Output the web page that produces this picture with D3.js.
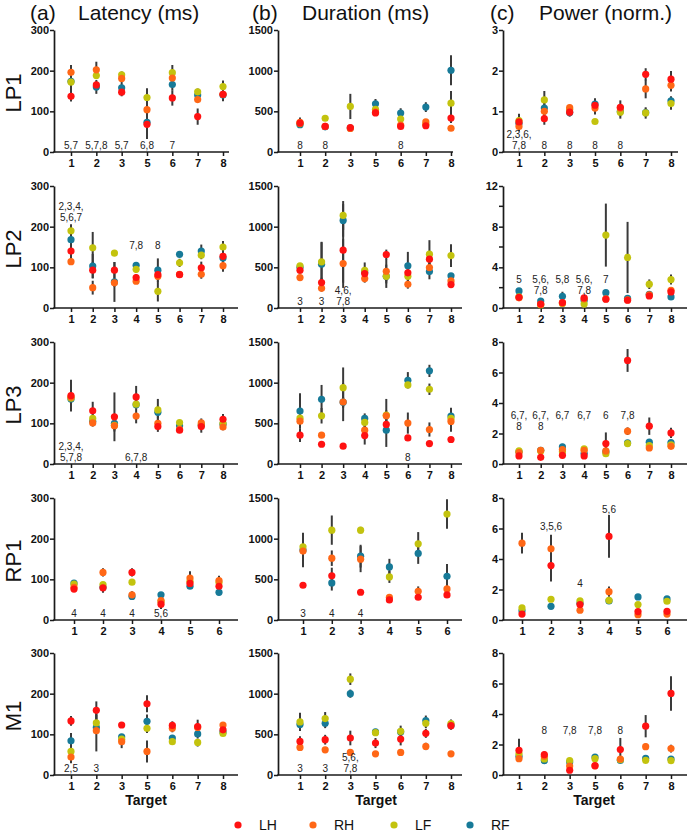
<!DOCTYPE html>
<html><head><meta charset="utf-8">
<script src="https://cdn.jsdelivr.net/npm/d3@7"></script>
<style>body{margin:0;background:#fff;} svg{display:block;font-family:"Liberation Sans",Arial,sans-serif;}</style>
</head><body><svg id="c" width="690" height="833"></svg>
<script>
// ---------- labels ----------
const seriesNames = ["LH","RH","LF","RF"];
const rowNames = ["LP1","LP2","LP3","RP1","M1"];
const columnTitles = ["Latency (ms)","Duration (ms)","Power (norm.)"];
const columnLetters = ["(a)","(b)","(c)"];
const xTitle = "Target";

// ---------- targets per row ----------
const targetsLP1 = [1,2,3,5,6,7,8];
const targetsLP2 = [1,2,3,4,5,6,7,8];
const targetsLP3 = [1,2,3,4,5,6,7,8];
const targetsRP1 = [1,2,3,4,5,6];
const targetsM1  = [1,2,3,5,6,7,8];

// ---------- y ticks ----------
const latTicks = [0,100,200,300];
const durTicks = [0,500,1000,1500];
const powTicksLP1 = [0,1,2,3];
const powTicksLP2 = [0,4,8,12];
const powMinorLP2 = [2,6,10];
const powTicks8 = [0,2,4,6,8];

// ---------- data: [mean, error] per target ----------
// LP1
const LP1_lat_LH = [[137,13],[165,8],[147,10],[68,10],[133,19],[87,20],[142,8]];
const LP1_lat_RH = [[196,18],[202,20],[181,8],[104,12],[182,10],[129,8],[142,6]];
const LP1_lat_LF = [[172,8],[188,8],[190,8],[134,23],[195,19],[148,8],[161,15]];
const LP1_lat_RF = [[174,25],[160,17],[158,14],[73,41],[166,14],[140,8],[140,15]];
const LP1_dur_LH = [[355,20],[315,15],[300,15],[480,20],[315,30],[323,20],[418,60]];
const LP1_dur_RH = [[365,60],[315,10],[290,10],[490,20],[330,30],[370,25],[292,15]];
const LP1_dur_LF = [[350,20],[415,20],[560,155],[525,30],[405,35],[340,20],[600,150]];
const LP1_dur_RF = [[335,40],[310,10],[295,10],[592,60],[478,60],[552,60],[1005,185]];
const LP1_pow_LH = [[0.74,0.1],[0.82,0.15],[0.98,0.08],[1.15,0.15],[1.10,0.17],[1.91,0.15],[1.79,0.2]];
const LP1_pow_RH = [[0.63,0.12],[1.00,0.1],[1.09,0.07],[1.08,0.16],[1.08,0.1],[1.55,0.23],[1.64,0.15]];
const LP1_pow_LF = [[0.77,0.17],[1.28,0.22],[1.05,0.08],[0.75,0.06],[0.98,0.16],[0.96,0.14],[1.19,0.15]];
const LP1_pow_RF = [[0.70,0.1],[1.08,0.12],[0.97,0.1],[1.18,0.14],[1.00,0.12],[0.97,0.1],[1.26,0.11]];
// LP2
const LP2_lat_LH = [[140,25],[93,20],[93,20],[75,8],[82,10],[82,5],[99,15],[127,12]];
const LP2_lat_RH = [[114,8],[50,17],[62,10],[66,5],[78,10],[83,5],[83,11],[104,15]];
const LP2_lat_LF = [[190,16],[148,39],[135,5],[95,8],[41,25],[111,10],[130,10],[150,15]];
const LP2_lat_RF = [[168,15],[103,30],[64,49],[105,5],[93,29],[132,5],[140,16],[123,12]];
const LP2_dur_LH = [[464,40],[312,60],[711,400],[423,50],[658,60],[432,60],[600,80],[288,40]];
const LP2_dur_RH = [[374,25],[242,40],[547,300],[362,50],[452,150],[292,54],[497,60],[333,30]];
const LP2_dur_LF = [[518,30],[567,247],[1138,177],[464,96],[390,143],[390,60],[662,172],[645,140]];
const LP2_dur_RF = [[500,30],[538,270],[1077,200],[440,50],[390,60],[518,172],[448,95],[395,30]];
const LP2_pow_LH = [[1.05,0.1],[0.39,0.1],[0.53,0.1],[0.99,0.1],[0.86,0.1],[0.76,0.1],[1.18,0.15],[1.58,0.2]];
const LP2_pow_RH = [[1.0,0.1],[0.35,0.1],[0.5,0.1],[0.9,0.1],[0.9,0.1],[0.8,0.1],[1.3,0.15],[1.74,0.2]];
const LP2_pow_LF = [[1.1,0.1],[0.3,0.1],[0.45,0.1],[0.39,0.1],[7.17,3.1],[4.97,3.5],[2.34,0.47],[2.8,0.5]];
const LP2_pow_RF = [[1.68,0.15],[0.69,0.1],[1.15,0.45],[0.75,0.1],[1.51,0.15],[0.95,0.1],[1.35,0.15],[1.09,0.1]];
// LP3
const LP3_lat_LH = [[168,39],[131,22],[116,60],[165,27],[92,13],[83,6],[92,15],[110,13]];
const LP3_lat_RH = [[165,10],[101,9],[94,10],[118,18],[100,10],[85,5],[101,11],[91,8]];
const LP3_lat_LF = [[162,10],[112,10],[95,10],[147,10],[133,27],[102,5],[97,5],[100,8]];
const LP3_lat_RF = [[160,10],[105,8],[100,20],[146,10],[127,15],[94,8],[95,8],[98,8]];
const LP3_dur_LH = [[354,82],[243,15],[219,15],[350,111],[486,60],[321,30],[251,20],[301,20]];
const LP3_dur_RH = [[527,60],[354,20],[762,235],[416,82],[593,207],[503,130],[424,87],[523,127]];
const LP3_dur_LF = [[564,60],[593,95],[939,248],[511,60],[600,60],[972,40],[919,70],[560,60]];
const LP3_dur_RF = [[651,218],[795,177],[760,60],[560,62],[416,206],[1030,100],[1145,75],[589,103]];
const LP3_pow_LH = [[0.53,0.08],[0.44,0.08],[0.57,0.1],[0.53,0.08],[1.34,0.73],[6.79,0.75],[2.48,0.57],[2.04,0.33]];
const LP3_pow_RH = [[0.75,0.1],[0.9,0.1],[0.95,0.12],[0.9,0.1],[0.86,0.1],[2.15,0.25],[1.05,0.1],[1.16,0.1]];
const LP3_pow_LF = [[0.86,0.1],[0.85,0.1],[0.8,0.1],[0.99,0.1],[0.68,0.1],[1.34,0.1],[1.2,0.1],[1.25,0.1]];
const LP3_pow_RF = [[0.8,0.1],[0.9,0.1],[1.12,0.2],[0.7,0.1],[0.8,0.1],[1.38,0.1],[1.43,0.12],[1.41,0.1]];
// RP1
const RP1_lat_LH = [[76,6],[79,12],[117,10],[39,12],[90,7],[83,8]];
const RP1_lat_RH = [[80,5],[117,10],[62,9],[48,8],[103,17],[97,12]];
const RP1_lat_LF = [[88,5],[87,6],[93,5],[45,8],[95,7],[92,8]];
const RP1_lat_RF = [[91,5],[80,8],[58,9],[62,5],[83,5],[68,7]];
const RP1_dur_LH = [[427,20],[543,100],[341,30],[247,20],[280,25],[308,20]];
const RP1_dur_RH = [[847,198],[760,95],[748,160],[280,20],[353,60],[382,41]];
const RP1_dur_LF = [[900,173],[1105,180],[1105,40],[530,74],[937,144],[1303,181]];
const RP1_dur_RF = [[860,60],[456,94],[785,140],[653,99],[818,128],[538,152]];
const RP1_pow_LH = [[0.39,0.08],[3.57,1.05],[1.01,0.1],[5.48,1.4],[0.55,0.1],[0.57,0.1]];
const RP1_pow_RH = [[5.04,0.68],[4.67,0.92],[0.64,0.08],[1.86,0.34],[0.35,0.06],[0.39,0.06]];
const RP1_pow_LF = [[0.79,0.1],[1.36,0.1],[1.25,0.1],[1.29,0.15],[1.01,0.1],[1.23,0.1]];
const RP1_pow_RF = [[0.6,0.06],[0.9,0.08],[1.1,0.1],[1.25,0.1],[1.51,0.1],[1.38,0.1]];
// M1
const M1_lat_LH = [[133,12],[159,22],[123,6],[175,21],[122,10],[119,17],[111,6]];
const M1_lat_RH = [[44,12],[109,51],[82,16],[58,27],[115,10],[117,10],[123,5]];
const M1_lat_LF = [[58,29],[128,20],[88,8],[115,12],[82,8],[80,10],[102,5]];
const M1_lat_RF = [[84,19],[117,15],[94,6],[132,17],[91,5],[101,10],[106,5]];
const M1_dur_LH = [[413,62],[434,60],[455,90],[393,62],[442,78],[512,55],[607,50]];
const M1_dur_RH = [[339,20],[310,15],[277,15],[260,10],[277,15],[351,45],[260,10]];
const M1_dur_LF = [[653,111],[694,80],[1178,71],[520,25],[537,70],[636,60],[632,50]];
const M1_dur_RF = [[620,60],[636,60],[1000,50],[529,20],[530,40],[669,62],[610,40]];
const M1_pow_LH = [[1.62,0.75],[1.34,0.2],[0.31,0.05],[0.61,0.05],[1.67,0.76],[3.2,0.73],[5.35,1.13]];
const M1_pow_RH = [[1.07,0.1],[1.23,0.1],[0.59,0.05],[0.6,0.05],[1.05,0.1],[1.86,0.2],[1.73,0.25]];
const M1_pow_LF = [[1.4,0.2],[1.05,0.1],[0.94,0.05],[1.07,0.05],[1.0,0.1],[0.96,0.05],[0.94,0.05]];
const M1_pow_RF = [[1.23,0.1],[0.94,0.1],[0.85,0.05],[1.18,0.05],[0.95,0.1],[1.1,0.05],[1.05,0.05]];

// ---------- significance annotations: [target, text, y value of first line (null = at axis)] ----------
const LP1_lat_ann = [[1,"5,7",null],[2,"5,7,8",null],[3,"5,7",null],[5,"6,8",null],[6,"7",null]];
const LP1_dur_ann = [[1,"8",null],[2,"8",null],[6,"8",null]];
const LP1_pow_ann = [[1,"2,3,6,\n7,8",null],[2,"8",null],[3,"8",null],[5,"8",null],[6,"8",null]];
const LP2_lat_ann = [[1,"2,3,4,\n5,6,7",241],[4,"7,8",145],[5,"8",145]];
const LP2_dur_ann = [[1,"3",null],[2,"3",null],[3,"4,6,\n7,8",null]];
const LP2_pow_ann = [[1,"5",2.46],[2,"5,6,\n7,8",2.46],[3,"5,8",2.46],[4,"5,6,\n7,8",2.46],[5,"7",2.46]];
const LP3_lat_ann = [[1,"2,3,4,\n5,7,8",null],[4,"6,7,8",null]];
const LP3_dur_ann = [[6,"8",null]];
const LP3_pow_ann = [[1,"6,7,\n8",2.95],[2,"6,7,\n8",2.95],[3,"6,7",2.95],[4,"6,7",2.95],[5,"6",2.95],[6,"7,8",2.95]];
const RP1_lat_ann = [[1,"4",null],[2,"4",null],[3,"4",null],[4,"5,6",null]];
const RP1_dur_ann = [[1,"3",null],[2,"4",null],[3,"4",null]];
const RP1_pow_ann = [[2,"3,5,6",5.88],[3,"4",2.18],[4,"5,6",7.0]];
const M1_lat_ann = [[1,"2,5",null],[2,"3",null]];
const M1_dur_ann = [[1,"3",null],[2,"3",null],[3,"5,6,\n7,8",null]];
const M1_pow_ann = [[2,"8",2.69],[3,"7,8",2.69],[5,"7,8",2.69],[6,"8",2.69]];

// ---------- assemble ----------
const colors = {LH:"#ff1212", RH:"#ff6716", LF:"#c3c30e", RF:"#177a98"};
const rows = [
  {name:"LP1", targets:targetsLP1, axisLen:175,
   cells:[{max:300,ticks:latTicks,s:[LP1_lat_LH,LP1_lat_RH,LP1_lat_LF,LP1_lat_RF],ann:LP1_lat_ann},
          {max:1500,ticks:durTicks,s:[LP1_dur_LH,LP1_dur_RH,LP1_dur_LF,LP1_dur_RF],ann:LP1_dur_ann},
          {max:3,ticks:powTicksLP1,s:[LP1_pow_LH,LP1_pow_RH,LP1_pow_LF,LP1_pow_RF],ann:LP1_pow_ann}]},
  {name:"LP2", targets:targetsLP2, axisLen:184,
   cells:[{max:300,ticks:latTicks,s:[LP2_lat_LH,LP2_lat_RH,LP2_lat_LF,LP2_lat_RF],ann:LP2_lat_ann},
          {max:1500,ticks:durTicks,s:[LP2_dur_LH,LP2_dur_RH,LP2_dur_LF,LP2_dur_RF],ann:LP2_dur_ann},
          {max:12,ticks:powTicksLP2,minor:powMinorLP2,s:[LP2_pow_LH,LP2_pow_RH,LP2_pow_LF,LP2_pow_RF],ann:LP2_pow_ann}]},
  {name:"LP3", targets:targetsLP3, axisLen:184,
   cells:[{max:300,ticks:latTicks,s:[LP3_lat_LH,LP3_lat_RH,LP3_lat_LF,LP3_lat_RF],ann:LP3_lat_ann},
          {max:1500,ticks:durTicks,s:[LP3_dur_LH,LP3_dur_RH,LP3_dur_LF,LP3_dur_RF],ann:LP3_dur_ann},
          {max:8,ticks:powTicks8,s:[LP3_pow_LH,LP3_pow_RH,LP3_pow_LF,LP3_pow_RF],ann:LP3_pow_ann}]},
  {name:"RP1", targets:targetsRP1, axisLen:184,
   cells:[{max:300,ticks:latTicks,s:[RP1_lat_LH,RP1_lat_RH,RP1_lat_LF,RP1_lat_RF],ann:RP1_lat_ann},
          {max:1500,ticks:durTicks,s:[RP1_dur_LH,RP1_dur_RH,RP1_dur_LF,RP1_dur_RF],ann:RP1_dur_ann},
          {max:8,ticks:powTicks8,s:[RP1_pow_LH,RP1_pow_RH,RP1_pow_LF,RP1_pow_RF],ann:RP1_pow_ann}]},
  {name:"M1", targets:targetsM1, axisLen:184,
   cells:[{max:300,ticks:latTicks,s:[M1_lat_LH,M1_lat_RH,M1_lat_LF,M1_lat_RF],ann:M1_lat_ann},
          {max:1500,ticks:durTicks,s:[M1_dur_LH,M1_dur_RH,M1_dur_LF,M1_dur_RF],ann:M1_dur_ann},
          {max:8,ticks:powTicks8,s:[M1_pow_LH,M1_pow_RH,M1_pow_LF,M1_pow_RF],ann:M1_pow_ann}]}
];

// ---------- layout ----------
const svg = d3.select("#c");
const colX0 = [54, 278, 503];
const rowY0 = [30, 186, 342, 498, 653];
const plotH = 122;
const xInset = [[17,169],[22,173],[16,168]];
const R = 3.6;
const axisColor = "#1a1a1a";
const drawOrder = [3,2,1,0]; // RF, LF, RH, LH (LH on top)
const annFont = 10, annLine = 11.3;

// column titles
const titleX = [[30,78],[252,302],[490,539]];
columnTitles.forEach((t,i)=>{
  svg.append("text").attr("x",titleX[i][0]).attr("y",20).attr("font-size",21).attr("fill","#111").text(columnLetters[i]);
  svg.append("text").attr("x",titleX[i][1]).attr("y",20).attr("font-size",21).attr("fill","#111").text(t);
});

rows.forEach((row,ri)=>{
  const y0 = rowY0[ri];
  const yB = y0 + plotH;
  svg.append("text").attr("transform",`translate(21,${y0+63}) rotate(-90)`)
    .attr("text-anchor","middle").attr("font-size",22).attr("fill","#111").text(row.name);

  row.cells.forEach((cell,ci)=>{
    const x0 = colX0[ci];
    const n = row.targets.length;
    let a = x0 + xInset[ci][0], b = x0 + xInset[ci][1];
    if (n === 6) { a += 3; b -= 4; }
    const x = d3.scalePoint().domain(row.targets).range([a,b]);
    const y = d3.scaleLinear().domain([0,cell.max]).range([yB,y0]);
    const g = svg.append("g");

    // y axis
    const ya = g.append("g").attr("transform",`translate(${x0},0)`)
      .call(d3.axisLeft(y).tickValues(cell.ticks).tickSize(4).tickSizeOuter(0).tickPadding(1).tickFormat(d3.format("d")));
    ya.select(".domain").attr("stroke",axisColor).attr("stroke-width",1.7);
    ya.selectAll(".tick line").attr("stroke",axisColor).attr("stroke-width",1.5);
    ya.selectAll(".tick text").attr("font-size",11).attr("font-weight","bold").attr("fill","#111")
      .attr("font-family","'Liberation Sans',Arial,sans-serif");
    if (cell.minor) {
      g.selectAll(".minor").data(cell.minor).enter().append("line")
        .attr("x1",x0-4).attr("x2",x0).attr("y1",d=>y(d)).attr("y2",d=>y(d))
        .attr("stroke",axisColor).attr("stroke-width",1.5);
    }
    // x axis
    const xa = g.append("g").attr("transform",`translate(0,${yB})`)
      .call(d3.axisBottom(x).tickSize(4).tickSizeOuter(0).tickPadding(3));
    xa.select(".domain").remove();
    xa.selectAll(".tick line").attr("stroke",axisColor).attr("stroke-width",1.5);
    xa.selectAll(".tick text").attr("font-size",11).attr("font-weight","bold").attr("fill","#111")
      .attr("font-family","'Liberation Sans',Arial,sans-serif");
    g.append("line").attr("x1",x0-0.8).attr("x2",x0+row.axisLen).attr("y1",yB).attr("y2",yB)
      .attr("stroke",axisColor).attr("stroke-width",1.7);

    // error bars
    cell.s.forEach((ser,si)=>{
      g.selectAll(null).data(ser.map((d,i)=>({t:row.targets[i],m:d[0],e:d[1]}))).enter().append("line")
        .attr("x1",d=>x(d.t)).attr("x2",d=>x(d.t))
        .attr("y1",d=>y(Math.min(cell.max*1.05,d.m+d.e))).attr("y2",d=>y(Math.max(0,d.m-d.e)))
        .attr("stroke","#3a3a3a").attr("stroke-width",2);
    });
    // points
    drawOrder.forEach(si=>{
      const ser = cell.s[si];
      g.selectAll(null).data(ser.map((d,i)=>({t:row.targets[i],m:d[0]}))).enter().append("circle")
        .attr("cx",d=>x(d.t)).attr("cy",d=>y(d.m)).attr("r",R).attr("fill",colors[seriesNames[si]]);
    });
    // annotations
    cell.ann.forEach(([t,txt,yv])=>{
      const lines = txt.split("\n");
      const first = yv==null ? yB - 3 - (lines.length-1)*annLine : y(yv);
      lines.forEach((ln,li)=>{
        g.append("text").attr("text-anchor","middle").attr("font-size",annFont).attr("fill","#222")
          .attr("x",x(t)).attr("y",first+li*annLine).text(ln);
      });
    });
    if (ri === rows.length-1) {
      const cx = [146,376,594][ci];
      svg.append("text").attr("x",cx).attr("y",805).attr("text-anchor","middle")
        .attr("font-size",14).attr("font-weight","bold").attr("fill","#111").text(xTitle);
    }
  });
});

// legend
const legX = [238,313,394,470];
seriesNames.forEach((s,i)=>{
  svg.append("circle").attr("cx",legX[i]).attr("cy",825).attr("r",3.6).attr("fill",colors[s]);
  svg.append("text").attr("x",legX[i]+21).attr("y",830).attr("font-size",14).attr("fill","#111").text(s);
});
</script>
</body></html>
